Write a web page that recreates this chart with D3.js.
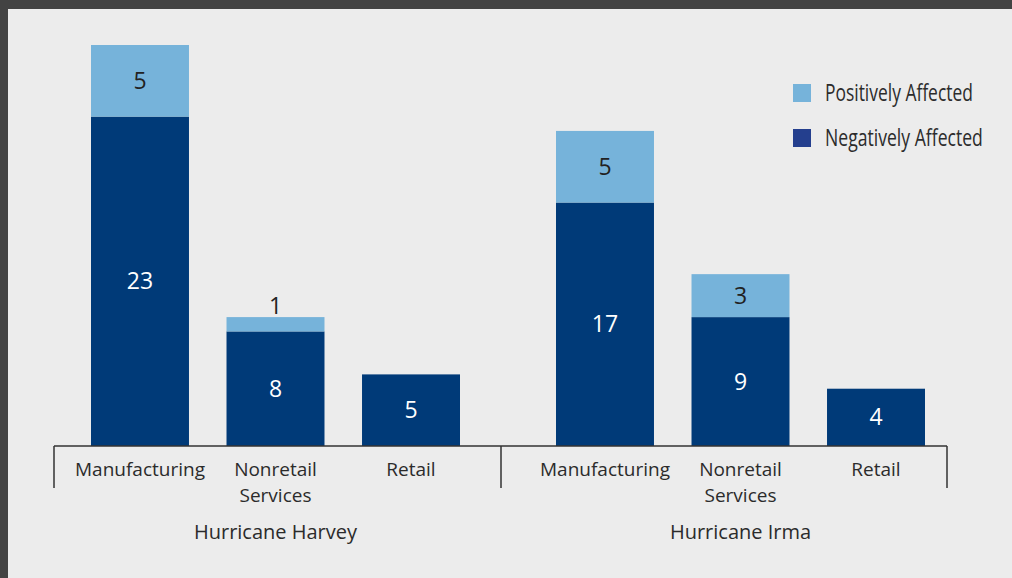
<!DOCTYPE html>
<html>
<head>
<meta charset="utf-8">
<script src="https://cdn.jsdelivr.net/npm/d3@7"></script>
<style>
  body { margin: 0; background: #444; }
  svg { display: block; }
</style>
</head>
<body>
<div class="container"></div>
<script>
const w = 1012;
const h = 578;

// data
const groups = ['Hurricane Harvey', 'Hurricane Irma'];
const sectors = ['Manufacturing', 'Nonretail Services', 'Retail'];
const negative = [[23, 8, 5], [17, 9, 4]];
const positive = [[5, 1, 0], [5, 3, 0]];
const seriesNames = ['Positively Affected', 'Negatively Affected'];

const colors = {pos: '#76b3da', neg: '#003a78', legPos: '#76b3da', legNeg: '#243f8e'};
const font = '"Open Sans", "DejaVu Sans", sans-serif';

const baseY = 446;
// axis span and bar span for each group
const axisSpans = [[54, 501], [501, 947]];
const barSpans = [[91, 460], [556, 925]];

const svg = d3.select('.container')
              .append('svg')
              .attr('width', w)
              .attr('height', h);

// dark frame + light panel
svg.append('rect').attr('width', w).attr('height', h).attr('fill', '#434343');
svg.append('rect').attr('x', 8).attr('y', 9)
   .attr('width', w - 8).attr('height', h - 9)
   .attr('fill', '#ececec');

const maxTotal = d3.max(groups.flatMap((g, gi) => sectors.map((s, si) => negative[gi][si] + positive[gi][si])));
const yScale = d3.scaleLinear().domain([0, maxTotal]).range([baseY, 45]);

groups.forEach((g, gi) => {
  const x = d3.scaleBand().domain(sectors).range(barSpans[gi]).paddingInner(0.277);
  const rows = sectors.map((s, si) => ({s, neg: negative[gi][si], pos: positive[gi][si]}));
  const grp = svg.append('g');

  // negative (bottom) segments
  grp.selectAll('rect.neg').data(rows).enter().append('rect')
     .attr('class', 'neg')
     .attr('x', d => x(d.s))
     .attr('width', x.bandwidth())
     .attr('y', d => yScale(d.neg))
     .attr('height', d => baseY - yScale(d.neg))
     .attr('fill', colors.neg);

  // positive (top) segments
  grp.selectAll('rect.pos').data(rows.filter(d => d.pos > 0)).enter().append('rect')
     .attr('class', 'pos')
     .attr('x', d => x(d.s))
     .attr('width', x.bandwidth())
     .attr('y', d => yScale(d.neg + d.pos))
     .attr('height', d => yScale(d.neg) - yScale(d.neg + d.pos))
     .attr('fill', colors.pos);

  // value labels
  grp.selectAll('text.negv').data(rows).enter().append('text')
     .attr('x', d => x(d.s) + x.bandwidth() / 2)
     .attr('y', d => (yScale(d.neg) + baseY) / 2)
     .attr('dy', '0.35em')
     .attr('text-anchor', 'middle')
     .style('font-family', font).style('font-size', '23px')
     .attr('fill', '#fff')
     .text(d => d.neg);

  grp.selectAll('text.posv').data(rows.filter(d => d.pos > 0)).enter().append('text')
     .attr('x', d => x(d.s) + x.bandwidth() / 2)
     .attr('y', d => {
        const top = yScale(d.neg + d.pos), bot = yScale(d.neg);
        // thin segment: put the number above it
        return (bot - top) < 25 ? top - 3 : (top + bot) / 2;
     })
     .attr('dy', d => (yScale(d.neg) - yScale(d.neg + d.pos)) < 25 ? 0 : '0.35em')
     .attr('text-anchor', 'middle')
     .style('font-family', font).style('font-size', '23px')
     .attr('fill', '#222')
     .text(d => d.pos);

  // sector labels under the axis
  const lbl = grp.selectAll('text.cat').data(sectors).enter().append('text')
     .attr('text-anchor', 'middle')
     .style('font-family', font).style('font-size', '19px')
     .attr('fill', '#2b2b2b');
  lbl.each(function(s) {
    const words = s.split(' ');
    const t = d3.select(this);
    words.forEach((word, i) => {
      t.append('tspan')
       .attr('x', x(s) + x.bandwidth() / 2)
       .attr('y', 476 + i * 26)
       .text(word);
    });
  });

  // group title
  grp.append('text')
     .attr('x', (barSpans[gi][0] + barSpans[gi][1]) / 2)
     .attr('y', 539)
     .attr('text-anchor', 'middle')
     .style('font-family', font).style('font-size', '20px')
     .attr('fill', '#2b2b2b')
     .text(g);
});

// axis line with group dividers
svg.append('line')
   .attr('x1', axisSpans[0][0]).attr('x2', axisSpans[1][1])
   .attr('y1', baseY).attr('y2', baseY)
   .attr('stroke', '#333').attr('stroke-width', 1.5);
const ticks = [axisSpans[0][0], axisSpans[0][1], axisSpans[1][1]];
svg.selectAll('line.tick').data(ticks).enter().append('line')
   .attr('x1', d => d).attr('x2', d => d)
   .attr('y1', baseY).attr('y2', 488)
   .attr('stroke', '#333').attr('stroke-width', 1.5);

// legend: condensed type, squeezed horizontally to the reference widths
const legend = svg.append('g');
const legColors = [colors.legPos, colors.legNeg];
const legWidths = [148, 158];
seriesNames.forEach((name, i) => {
  legend.append('rect')
        .attr('x', 793).attr('y', 84 + i * 45)
        .attr('width', 18).attr('height', 18)
        .attr('fill', legColors[i]);
  const t = legend.append('text')
        .style('font-family', font).style('font-size', '23px')
        .attr('fill', '#2b2b2b')
        .text(name);
  const k = legWidths[i] / t.node().getComputedTextLength();
  t.attr('transform', `translate(825, ${101 + i * 45}) scale(${k}, 1)`);
});
</script>
</body>
</html>
